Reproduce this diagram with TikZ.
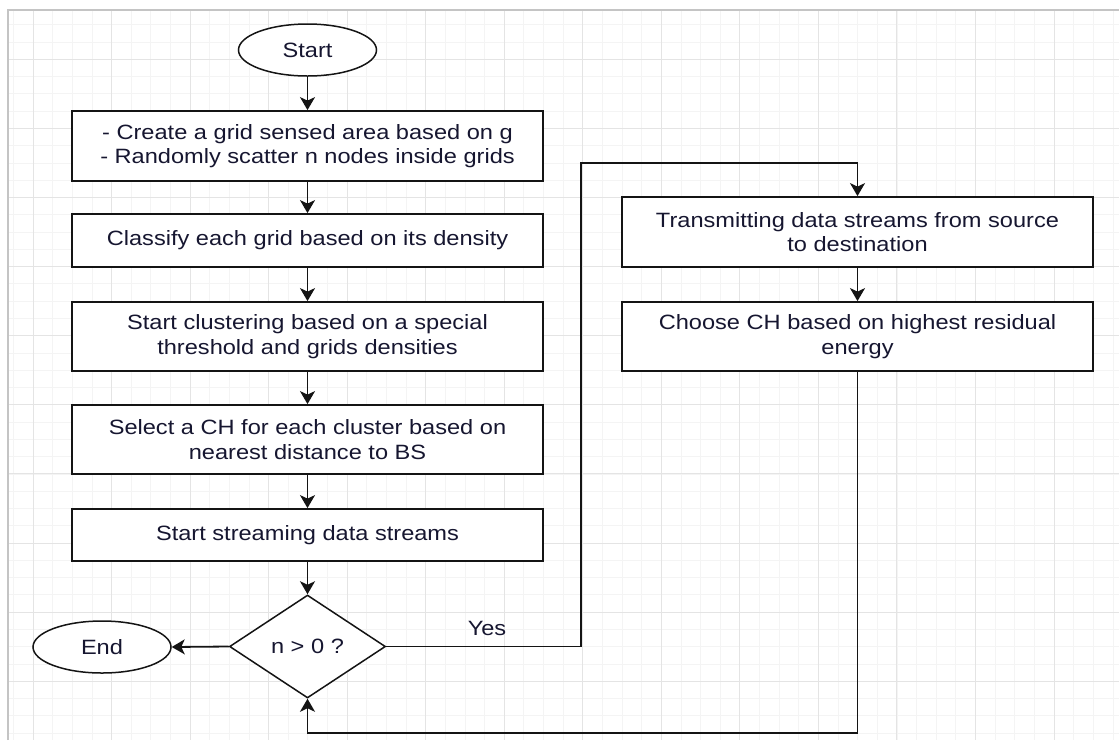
\documentclass[tikz,border=0pt]{standalone}
\usepackage{fontspec}
\setmainfont{Liberation Sans}[FakeStretch=1.14]
\usetikzlibrary{arrows.meta,shapes.geometric}
\definecolor{gmin}{HTML}{F4F4F4}
\definecolor{gmaj}{HTML}{E4E4E4}
\definecolor{frame}{HTML}{C4C4C4}
\definecolor{ink}{HTML}{141414}
\definecolor{txt}{HTML}{161630}
\tikzset{
  every node/.style={font=\fontsize{20.7}{24.5}\selectfont, text=txt},
  proc/.style={draw=ink, line width=1.8pt, fill=white, rectangle, minimum width=471pt, inner sep=0pt, align=center},
  term/.style={draw=ink, line width=1.5pt, fill=white, ellipse, minimum width=138pt, minimum height=52pt, inner sep=0pt},
  decis/.style={draw=ink, line width=1.5pt, fill=white, diamond, minimum width=156pt, minimum height=103pt, aspect=1.51, inner sep=0pt},
  conn/.style={draw=ink, line width=1.8pt, -{Stealth[length=13pt,width=15pt,inset=3.5pt]}},
  plain/.style={draw=ink, line width=1.8pt}
}
\begin{document}
\begin{tikzpicture}[x=1pt,y=-1pt]
\useasboundingbox (0,0) rectangle (1119,740);
\fill[white] (0,0) rectangle (1119,740);
\begin{scope}
\clip (8,10) rectangle (1119,740);
\foreach \k in {-1,...,55} \draw[gmin, line width=0.8pt] ({33+\k*19.635},10) -- ({33+\k*19.635},740);
\foreach \k in {-3,...,39} \draw[gmin, line width=0.8pt] (8,{59.3+\k*17.275}) -- (1119,{59.3+\k*17.275});
\foreach \k in {0,4,...,52} \draw[gmaj, line width=1pt] ({33+\k*19.635},10) -- ({33+\k*19.635},740);
\foreach \k in {0,4,...,36} \draw[gmaj, line width=1pt] (8,{59.3+\k*17.275}) -- (1119,{59.3+\k*17.275});
\end{scope}
\draw[frame, line width=2pt] (7.5,740) -- (7.5,9.5) -- (1119,9.5);

\node[term] (start) at (307.5,50) {Start};
\node[proc, minimum height=70pt] (b1) at (307.5,146) {- Create a grid sensed area based on g\\- Randomly scatter n nodes inside grids};
\node[proc, minimum height=53pt] (b2) at (307.5,240.5) {Classify each grid based on its density};
\node[proc, minimum height=69pt] (b3) at (307.5,336.5) {Start clustering based on a special\\threshold and grids densities};
\node[proc, minimum height=69pt] (b4) at (307.5,439.5) {Select a CH for each cluster based on\\nearest distance to BS};
\node[proc, minimum height=52pt] (b5) at (307.5,535) {Start streaming data streams};
\node[decis] (dec) at (307.5,646.5) {n > 0 ?};
\node[term] (end) at (102,647) {End};
\node[proc, minimum height=70pt] (t1) at (857.5,232) {Transmitting data streams from source\\to destination};
\node[proc, minimum height=69pt] (t2) at (857.5,336.5) {Choose CH based on highest residual\\energy};
\node (yes) at (487,628) {Yes};

\coordinate (up) at (581,163);
\coordinate (low) at (857.5,733);

\draw[conn] (start) -- (b1);
\draw[conn] (b1) -- (b2);
\draw[conn] (b2) -- (b3);
\draw[conn] (b3) -- (b4);
\draw[conn] (b4) -- (b5);
\draw[conn] (b5) -- (dec);
\draw[conn] (dec.west) -- (end.east);
\draw[conn] (dec.east) -| (up) -| (t1.north);
\draw[conn] (t1) -- (t2);
\draw[conn] (t2.south) -- (low) -| (dec.south);
\end{tikzpicture}
\end{document}
